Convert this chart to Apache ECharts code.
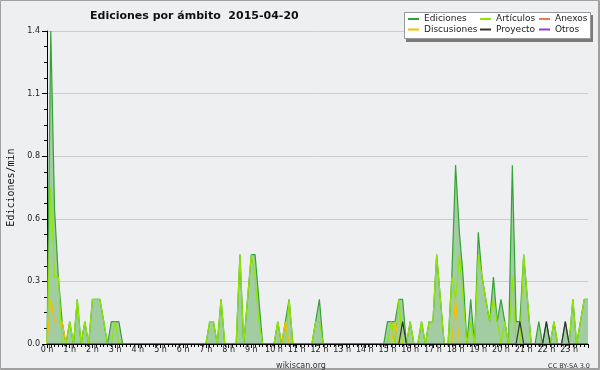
<!DOCTYPE html>
<html>
<head>
<meta charset="utf-8">
<script src="https://cdn.jsdelivr.net/npm/echarts@6/dist/echarts.min.js"></script>
<style>html,body{margin:0;padding:0;background:#eeeff0;}#c{width:600px;height:370px;}</style>
</head>
<body>
<div id="c"></div>
<script>
// 10-minute bins, 6 per hour (rows = hours 0..23), values in edits/min
const ediciones = [
  0, 1.4, 0.6, 0.3, 0.1, 0,
  0.1, 0, 0.2, 0, 0.1, 0,
  0.2, 0.2, 0.2, 0.1, 0, 0.1,
  0.1, 0.1, 0, 0, 0, 0,
  0, 0, 0, 0, 0, 0,
  0, 0, 0, 0, 0, 0,
  0, 0, 0, 0, 0, 0,
  0, 0.1, 0.1, 0, 0.2, 0,
  0, 0, 0, 0.4, 0, 0.2,
  0.4, 0.4, 0.2, 0, 0, 0,
  0, 0.1, 0, 0.1, 0.2, 0,
  0, 0, 0, 0, 0, 0.1,
  0.2, 0, 0, 0, 0, 0,
  0, 0, 0, 0, 0, 0,
  0, 0, 0, 0, 0, 0,
  0.1, 0.1, 0.1, 0.2, 0.2, 0,
  0.1, 0, 0, 0.1, 0, 0.1,
  0.1, 0.4, 0.2, 0, 0, 0.3,
  0.8, 0.5, 0.3, 0, 0.2, 0,
  0.5, 0.3, 0.2, 0.1, 0.3, 0.1,
  0.2, 0.1, 0, 0.8, 0.1, 0.1,
  0.4, 0.2, 0, 0, 0.1, 0,
  0.1, 0, 0.1, 0, 0, 0.1,
  0, 0.2, 0, 0.1, 0.2, 0.2
];
const articulos = [
  0, 0.7, 0.3, 0.3, 0, 0,
  0.1, 0, 0.2, 0, 0.1, 0,
  0.2, 0.2, 0.2, 0.1, 0, 0,
  0.1, 0, 0, 0, 0, 0,
  0, 0, 0, 0, 0, 0,
  0, 0, 0, 0, 0, 0,
  0, 0, 0, 0, 0, 0,
  0, 0.1, 0.1, 0, 0.2, 0,
  0, 0, 0, 0.4, 0, 0.2,
  0.4, 0.3, 0.1, 0, 0, 0,
  0, 0.1, 0, 0, 0.2, 0,
  0, 0, 0, 0, 0, 0.1,
  0.1, 0, 0, 0, 0, 0,
  0, 0, 0, 0, 0, 0,
  0, 0, 0, 0, 0, 0,
  0, 0.1, 0, 0.2, 0, 0,
  0.1, 0, 0, 0.1, 0, 0.1,
  0.1, 0.4, 0.2, 0, 0, 0.3,
  0.2, 0.4, 0.2, 0, 0.1, 0,
  0.4, 0.3, 0.2, 0.1, 0.2, 0.1,
  0, 0.1, 0, 0.3, 0, 0,
  0.4, 0.2, 0, 0, 0, 0,
  0, 0, 0.1, 0, 0, 0,
  0, 0.2, 0, 0.1, 0.2, 0.2
];
const anexos = [
  0,0,0,0,0,0, 0,0,0,0,0,0, 0,0,0,0,0,0, 0,0,0,0,0,0,
  0,0,0,0,0,0, 0,0,0,0,0,0, 0,0,0,0,0,0, 0,0,0,0,0,0,
  0,0,0,0,0,0, 0,0,0,0,0,0, 0,0,0,0,0,0, 0,0,0,0,0,0,
  0,0,0,0,0,0, 0,0,0,0,0,0, 0,0,0,0,0,0, 0,0,0,0,0,0,
  0,0,0,0,0,0, 0,0,0,0,0,0, 0,0,0,0,0,0, 0,0,0,0,0,0,
  0,0,0,0,0,0, 0,0,0,0,0,0, 0,0,0,0,0,0, 0,0,0,0,0,0
];
const discusiones = [
  0, 0.2, 0.1, 0.1, 0.1, 0,
  0,0,0,0,0,0, 0,0,0,0,0,0, 0,0,0,0,0,0,
  0,0,0,0,0,0, 0,0,0,0,0,0, 0,0,0,0,0,0, 0,0,0,0,0,0,
  0,0,0,0,0,0, 0,0,0,0,0,0,
  0, 0, 0, 0.1, 0, 0,
  0,0,0,0,0,0, 0,0,0,0,0,0, 0,0,0,0,0,0, 0,0,0,0,0,0,
  0, 0, 0.1, 0, 0, 0,
  0,0,0,0,0,0, 0,0,0,0,0,0,
  0.2, 0, 0, 0, 0, 0,
  0,0,0,0,0,0, 0,0,0,0,0,0, 0,0,0,0,0,0, 0,0,0,0,0,0, 0,0,0,0,0,0
];
const proyecto = [
  0,0,0,0,0,0, 0,0,0,0,0,0, 0,0,0,0,0,0, 0,0,0,0,0,0,
  0,0,0,0,0,0, 0,0,0,0,0,0, 0,0,0,0,0,0, 0,0,0,0,0,0,
  0,0,0,0,0,0, 0,0,0,0,0,0, 0,0,0,0,0,0, 0,0,0,0,0,0,
  0,0,0,0,0,0, 0,0,0,0,0,0, 0,0,0,0,0,0,
  0, 0, 0, 0, 0.1, 0,
  0,0,0,0,0,0, 0,0,0,0,0,0, 0,0,0,0,0,0, 0,0,0,0,0,0,
  0, 0, 0, 0, 0, 0.1,
  0,0,0,0,0,0,
  0.1, 0, 0, 0, 0, 0.1,
  0,0,0,0,0,0
];
const otros = [
  0,0,0,0,0,0, 0,0,0,0,0,0, 0,0,0,0,0,0, 0,0,0,0,0,0,
  0,0,0,0,0,0, 0,0,0,0,0,0, 0,0,0,0,0,0, 0,0,0,0,0,0,
  0,0,0,0,0,0, 0,0,0,0,0,0, 0,0,0,0,0,0, 0,0,0,0,0,0,
  0,0,0,0,0,0, 0,0,0,0,0,0, 0,0,0,0,0,0, 0,0,0,0,0,0,
  0,0,0,0,0,0, 0,0,0,0,0,0, 0,0,0,0,0,0, 0,0,0,0,0,0,
  0,0,0,0,0,0, 0,0,0,0,0,0, 0,0,0,0,0,0, 0,0,0,0,0,0
];
const hourLabels = ['0 h','1 h','2 h','3 h','4 h','5 h','6 h','7 h','8 h','9 h','10 h','11 h',
  '12 h','13 h','14 h','15 h','16 h','17 h','18 h','19 h','20 h','21 h','22 h','23 h'];
const yTickLabels = ['0.0','0.3','0.6','0.8','1.1','1.4'];
const seriesNames = ['Ediciones','Artículos','Anexos','Discusiones','Proyecto','Otros'];

const chart = echarts.init(document.getElementById('c'), null, {renderer:'canvas', width:600, height:370});
const toXY = arr => arr.map((v, i) => [i, v]);
const colors = ['#33a333', '#8fe600', '#f07850', '#f2c000', '#333333', '#9040e0'];
const datas = [ediciones, articulos, anexos, discusiones, proyecto, otros];
const series = seriesNames.map((n, k) => {
  const s = {
    name: n, type: 'line', data: toXY(datas[k]), symbol: 'none', showSymbol: false,
    color: colors[k], lineStyle: {width: 1.2, color: colors[k]}, animation: false
  };
  if (k === 0) s.areaStyle = {color: '#a2cda2', opacity: 1};
  return s;
});
const legendCommon = {
  orient: 'vertical', top: 14, itemWidth: 11, itemHeight: 2, itemGap: 0.5, icon: 'rect',
  padding: 0, z: 20, selectedMode: false,
  textStyle: {fontSize: 9, fontFamily: 'DejaVu Sans', color: '#222', lineHeight: 10}
};
const font = 'DejaVu Sans';
chart.setOption({
  backgroundColor: '#eeeff0',
  animation: false,
  title: {
    text: 'Ediciones por ámbito  2015-04-20', left: 85, top: 6,
    textStyle: {fontSize: 11, fontWeight: 'bold', fontFamily: font, color: '#111'}
  },
  legend: [
    Object.assign({}, legendCommon, {left: 408, data: [seriesNames[0], seriesNames[3]]}),
    Object.assign({}, legendCommon, {left: 480, data: [seriesNames[1], seriesNames[4]]}),
    Object.assign({}, legendCommon, {left: 539, data: [seriesNames[2], seriesNames[5]]})
  ],
  grid: {left: 47, top: 31, right: 12, bottom: 26, containLabel: false, outerBoundsMode: 'none'},
  xAxis: {
    type: 'value', min: 0, max: 143, interval: 6, z: 10,
    axisLine: {show: true, lineStyle: {color: '#000', width: 1}},
    axisTick: {show: true, length: 4, lineStyle: {color: '#000'}},
    minorTick: {show: true, splitNumber: 6, length: 3, lineStyle: {color: '#000'}},
    axisLabel: {
      formatter: v => (v % 6 === 0 && hourLabels[v / 6]) ? hourLabels[v / 6] : '',
      fontSize: 8, fontFamily: font, color: '#222', margin: 2
    },
    splitLine: {show: false}
  },
  yAxis: {
    type: 'value', min: 0, max: 1.4, interval: 0.28,
    name: 'Ediciones/min', nameLocation: 'middle', nameGap: 31, nameRotate: 90,
    nameTextStyle: {fontSize: 10, fontFamily: 'DejaVu Sans Mono', color: '#111'},
    axisLine: {show: true, lineStyle: {color: '#000'}},
    axisTick: {show: true, length: 5, lineStyle: {color: '#000'}},
    minorTick: {show: true, splitNumber: 4, length: 3, lineStyle: {color: '#000'}},
    axisLabel: {
      formatter: v => yTickLabels[Math.round(v / 0.28)],
      fontSize: 8, fontFamily: font, color: '#222', margin: 7
    },
    splitLine: {show: true, lineStyle: {color: '#cccccc', width: 1}}
  },
  graphic: [
    {type: 'rect', silent: true, z: 30, shape: {x: 0.5, y: 0.5, width: 599, height: 369}, style: {fill: null, stroke: '#a0a0a0', lineWidth: 1}},
    {type: 'line', silent: true, z: 30, shape: {x1: 0, y1: 368.5, x2: 600, y2: 368.5}, style: {stroke: '#a0a0a0', lineWidth: 1}},
    {type: 'line', silent: true, z: 30, shape: {x1: 598.5, y1: 0, x2: 598.5, y2: 370}, style: {stroke: '#a0a0a0', lineWidth: 1}},
    {type: 'rect', silent: true, z: 15, shape: {x: 406, y: 15, width: 187, height: 27}, style: {fill: '#7a7a7a'}},
    {type: 'rect', silent: true, z: 16, shape: {x: 404.5, y: 12.5, width: 186, height: 26}, style: {fill: '#ffffff', stroke: '#999999', lineWidth: 1}},
    {type: 'text', silent: true, z: 30, style: {x: 301, y: 361.5, text: 'wikiscan.org', font: '8px "DejaVu Sans"', fill: '#333', textAlign: 'center', textBaseline: 'middle'}},
    {type: 'text', silent: true, z: 30, style: {x: 590, y: 362.5, text: 'CC BY-SA 3.0', font: '6.5px "DejaVu Sans"', fill: '#333', textAlign: 'right', textBaseline: 'middle'}}
  ],
  series: series
});
</script>
</body>
</html>
